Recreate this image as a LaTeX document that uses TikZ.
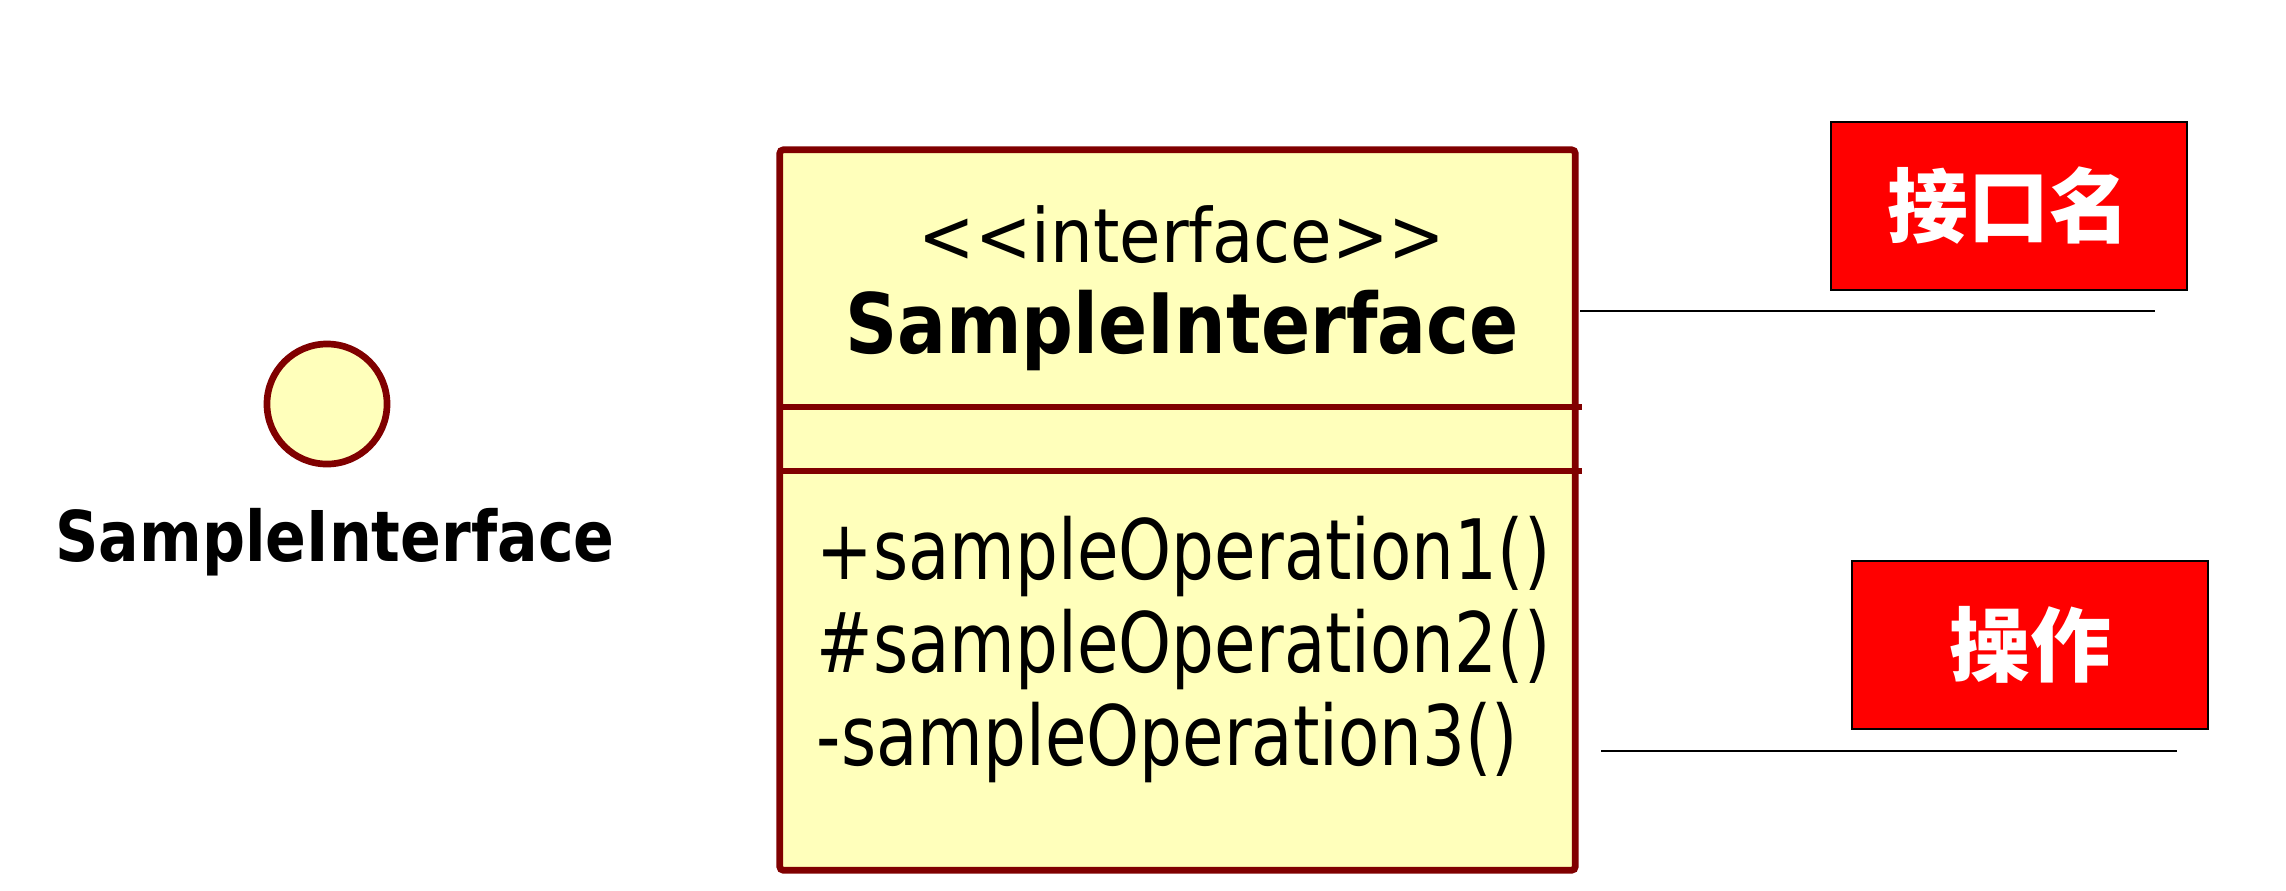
\documentclass[tikz,border=0pt]{standalone}
\usepackage{fontspec}
\usepackage{graphicx}
\setmainfont{DejaVu Sans}
\newfontfamily\cjk{Noto Sans CJK SC}
\definecolor{umlfill}{HTML}{FFFFBB}
\definecolor{umlline}{HTML}{800000}

\begin{document}
\begin{tikzpicture}[x=0.01cm, y=-0.01cm,
    umlshape/.style={draw=umlline, fill=umlfill, line width=1.9pt, inner sep=0pt},
    tag/.style={draw=black, fill=red, line width=0.6pt, minimum width=3.56cm,
      minimum height=1.68cm, text=white, font=\cjk\bfseries\fontsize{23}{28}\selectfont},
    note/.style={line width=0.45pt}]
    \useasboundingbox (0,0) rectangle (2286,890);
    % lollipop form
    \node[circle, umlshape, minimum size=1.2cm] (icon) at (327,404) {};
    \node[anchor=base, font=\bfseries\fontsize{19.9}{24}\selectfont] (iconname) at (335,561)
      {\scalebox{0.86}[1]{SampleInterface}};
    % class form
    \node[rectangle, umlshape, rounded corners=1pt, minimum width=7.95cm, minimum height=7.2cm] (cls) at (1177.5,510) {};
    \draw[draw=umlline, line width=1.9pt] (780,407) -- (1582,407);
    \draw[draw=umlline, line width=1.9pt] (780,471) -- (1582,471);
    \node[anchor=base, font=\fontsize{21.3}{26}\selectfont] (stereo) at (1182,262)
      {\scalebox{0.9}[1]{<{}<interface>{}>}};
    \node[anchor=base, font=\bfseries\fontsize{23.7}{28}\selectfont] (clsname) at (1182,353)
      {\scalebox{0.87}[1]{SampleInterface}};
    \node[anchor=base west, inner sep=0pt, font=\fontsize{23.7}{28}\selectfont] (op1) at (816,579)
      {\scalebox{0.81}[1]{+sampleOperation1()}};
    \node[anchor=base west, inner sep=0pt, font=\fontsize{23.7}{28}\selectfont] (op2) at (816,672)
      {\scalebox{0.81}[1]{\#sampleOperation2()}};
    \node[anchor=base west, inner sep=0pt, font=\fontsize{23.7}{28}\selectfont] (op3) at (816,765)
      {\scalebox{0.81}[1]{-sampleOperation3()}};
    % labels
    \node[tag] (tagname) at (2009,206) {接口名};
    \node[tag] (tagop) at (2030,645) {操作};
    \coordinate (n1a) at (1580,311);
    \coordinate (n1b) at (2155,311);
    \coordinate (n2a) at (1601,751);
    \coordinate (n2b) at (2177,751);
    \draw[note] (n1a) -- (n1b);
    \draw[note] (n2a) -- (n2b);
\end{tikzpicture}
\end{document}
